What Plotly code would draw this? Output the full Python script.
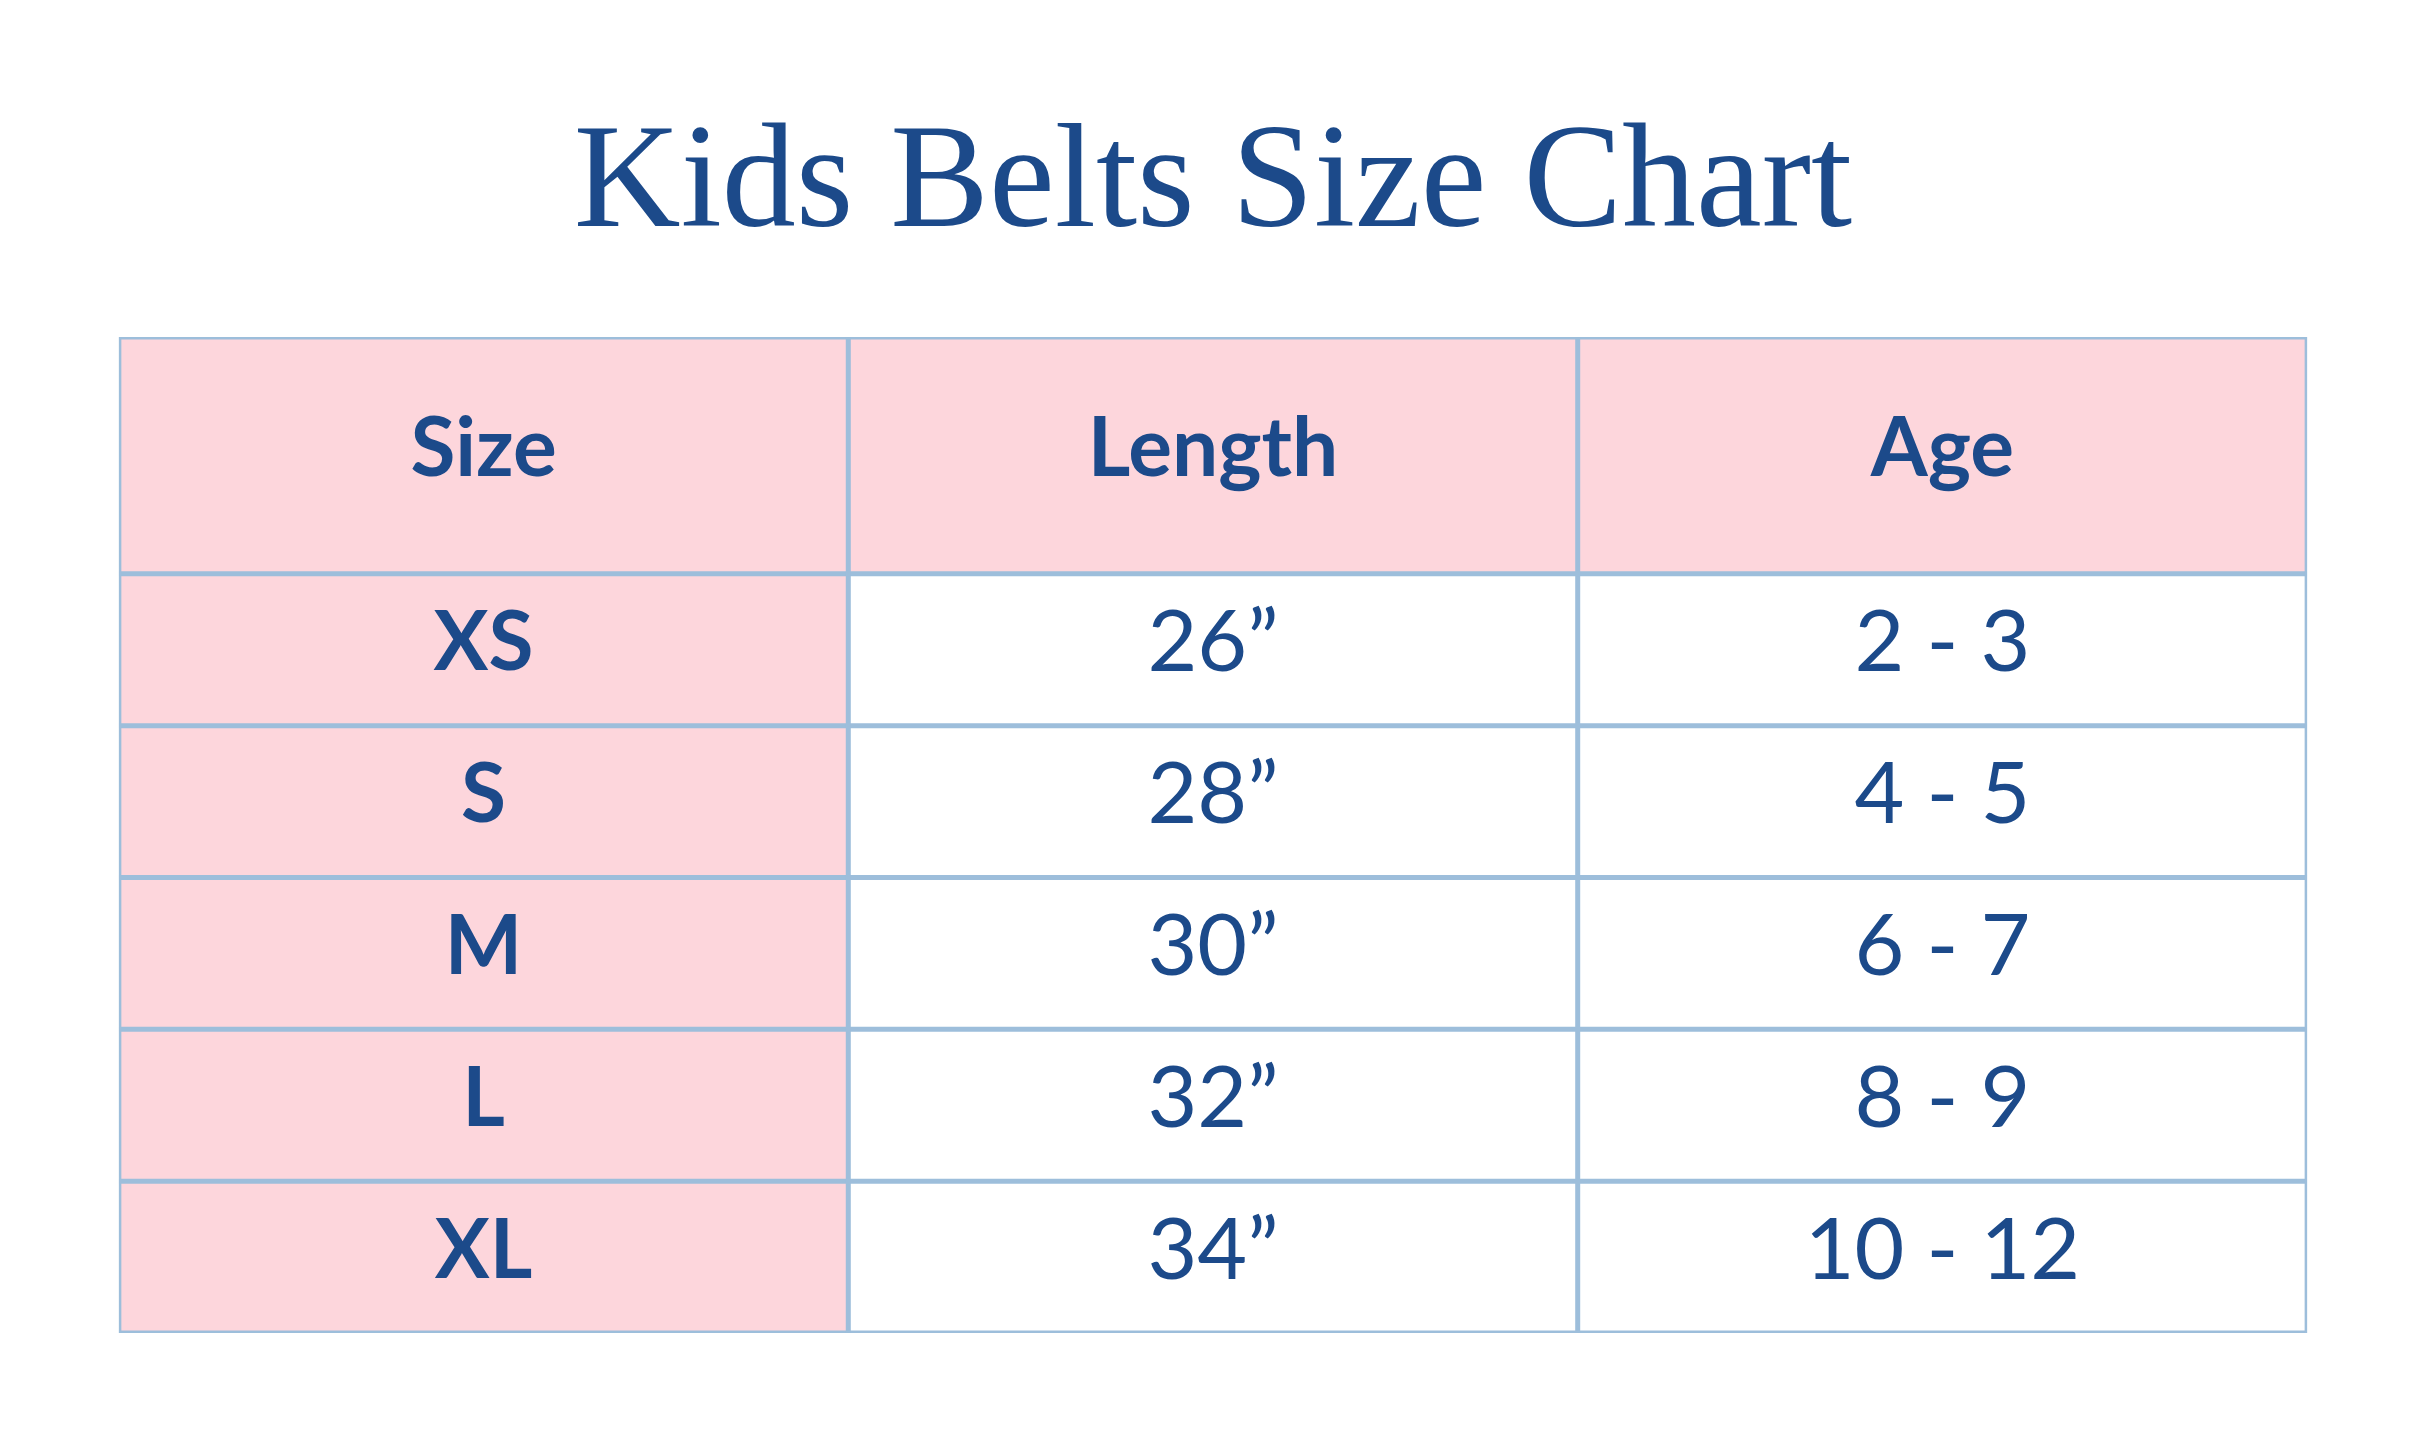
import plotly.graph_objects as go

title = "Kids Belts Size Chart"
columns = ["Size", "Length", "Age"]
sizes = ["XS", "S", "M", "L", "XL"]
lengths = ["26”", "28”", "30”", "32”", "34”"]
ages = ["2 - 3", "4 - 5", "6 - 7", "8 - 9", "10 - 12"]

navy = "#1c4a8a"
pink = "#fdd6dc"
grid = "#9dbedb"

HEAD = 1.56  # header row height relative to a body row
n = len(sizes)
bottom = HEAD + n

fig = go.Figure()
shapes = []
# fills
shapes.append(dict(type="rect", x0=0, x1=3, y0=0, y1=HEAD, fillcolor=pink, line_width=0, layer="below"))
shapes.append(dict(type="rect", x0=0, x1=1, y0=HEAD, y1=bottom, fillcolor=pink, line_width=0, layer="below"))
# grid lines
for yy in [0, HEAD] + [HEAD + i + 1 for i in range(n)]:
    shapes.append(dict(type="line", x0=0, x1=3, y0=yy, y1=yy, line=dict(color=grid, width=5)))
for xx in range(4):
    shapes.append(dict(type="line", x0=xx, x1=xx, y0=0, y1=bottom, line=dict(color=grid, width=5)))

# header text
fig.add_trace(go.Scatter(
    x=[0.5, 1.5, 2.5], y=[HEAD / 2] * 3, mode="text",
    text=["<b>%s</b>" % c for c in columns],
    textfont=dict(family="Lato", size=82, color=navy), hoverinfo="skip"))
# body text
rows_y = [HEAD + i + 0.5 for i in range(n)]
fig.add_trace(go.Scatter(
    x=[0.5] * n, y=rows_y, mode="text", text=["<b>%s</b>" % s for s in sizes],
    textfont=dict(family="Lato", size=82, color=navy), hoverinfo="skip"))
fig.add_trace(go.Scatter(
    x=[1.5] * n + [2.5] * n, y=rows_y * 2, mode="text", text=lengths + ages,
    textfont=dict(family="Lato", size=86, color=navy), hoverinfo="skip"))

fig.update_layout(
    width=2410, height=1443,
    margin=dict(l=0, r=0, t=0, b=0),
    paper_bgcolor="white", plot_bgcolor="white",
    showlegend=False,
    shapes=shapes,
    xaxis=dict(domain=[0.046, 0.954], range=[0, 3], visible=False, fixedrange=True),
    yaxis=dict(domain=[0.0818, 0.772], range=[bottom, 0], visible=False, fixedrange=True),
    title=dict(text=title, x=0.5, xanchor="center", y=0.885, yanchor="middle",
               font=dict(family="Liberation Serif", size=148, color=navy)),
)

fig.write_html("out.html")
